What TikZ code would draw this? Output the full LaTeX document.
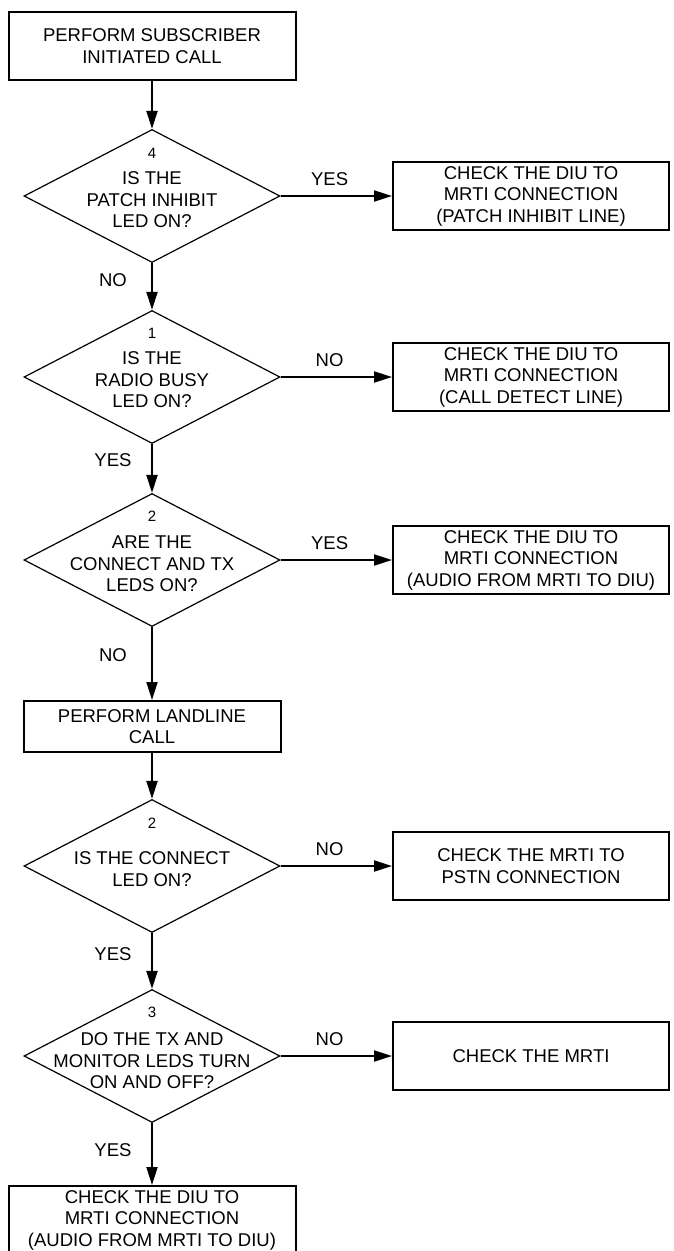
\documentclass[tikz,border=0pt]{standalone}
\usepackage{fontspec}
\setmainfont{Liberation Sans}
\usetikzlibrary{arrows.meta, shapes, positioning}

\begin{document}
\begin{tikzpicture}[x=1pt, y=-1pt,
                    txt/.style={font=\fontsize{18.5}{21.5}\selectfont, align=center},
                    box node/.style={rectangle, draw, line width=2pt, txt,
                      minimum width=276pt, minimum height=68pt, inner sep=0pt},
                    decision/.style={diamond, draw, line width=1.2pt,
                      minimum width=256pt, minimum height=133pt, inner sep=0pt},
                    num/.style={font=\fontsize{15}{18}\selectfont},
                    lbl/.style={txt},
                    flow/.style={draw, line width=2pt,
                      -{Triangle[length=18pt, width=11pt]}}]

  \useasboundingbox (0,0) rectangle (673,1251);

  % main column
  \node[box node, minimum width=287pt] (start) at (152,46) {PERFORM SUBSCRIBER\\INITIATED CALL};
  \node[decision] (d1) at (152,196) {};
  \node[txt] (d1 text) at ([yshift=-4pt]d1.center) {IS THE\\PATCH INHIBIT\\LED ON?};
  \node[num] (d1 num) at ([yshift=43pt]d1.center) {4};

  \node[decision] (d2) at (152,377) {};
  \node[txt] (d2 text) at ([yshift=-3pt]d2.center) {IS THE\\RADIO BUSY\\LED ON?};
  \node[num] (d2 num) at ([yshift=44pt]d2.center) {1};

  \node[decision] (d3) at (152,560) {};
  \node[txt] (d3 text) at ([yshift=-4pt]d3.center) {ARE THE\\CONNECT AND TX\\LEDS ON?};
  \node[num] (d3 num) at ([yshift=44pt]d3.center) {2};

  \node[box node, minimum width=257pt, minimum height=51pt] (land) at (152,726.5) {PERFORM LANDLINE\\CALL};

  \node[decision] (d4) at (152,866) {};
  \node[txt] (d4 text) at ([yshift=-3pt]d4.center) {IS THE CONNECT\\LED ON?};
  \node[num] (d4 num) at ([yshift=43pt]d4.center) {2};

  \node[decision] (d5) at (152,1056) {};
  \node[txt] (d5 text) at ([yshift=-5pt]d5.center) {DO THE TX AND\\MONITOR LEDS TURN\\ON AND OFF?};
  \node[num] (d5 num) at ([yshift=44pt]d5.center) {3};

  \node[box node, minimum width=287pt] (end) at (152,1220) {CHECK THE DIU TO\\MRTI CONNECTION\\(AUDIO FROM MRTI TO DIU)};

  % right column
  \node[box node] (b1) at (531,196) {CHECK THE DIU TO\\MRTI CONNECTION\\(PATCH INHIBIT LINE)};
  \node[box node] (b2) at (531,377) {CHECK THE DIU TO\\MRTI CONNECTION\\(CALL DETECT LINE)};
  \node[box node] (b3) at (531,560) {CHECK THE DIU TO\\MRTI CONNECTION\\(AUDIO FROM MRTI TO DIU)};
  \node[box node] (b4) at (531,866) {CHECK THE MRTI TO\\PSTN CONNECTION};
  \node[box node] (b5) at (531,1056) {CHECK THE MRTI};

  \path
    (start) edge[flow] (d1)
    (d1) edge[flow] node[lbl, pos=.44, yshift=17pt] {YES} (b1)
    (d1) edge[flow] node[lbl, pos=.36, xshift=-39pt] {NO} (d2)
    (d2) edge[flow] node[lbl, pos=.44, yshift=17pt] {NO} (b2)
    (d2) edge[flow] node[lbl, pos=.33, xshift=-39pt] {YES} (d3)
    (d3) edge[flow] node[lbl, pos=.44, yshift=17pt] {YES} (b3)
    (d3) edge[flow] node[lbl, pos=.38, xshift=-39pt] {NO} (land)
    (land) edge[flow] (d4)
    (d4) edge[flow] node[lbl, pos=.44, yshift=17pt] {NO} (b4)
    (d4) edge[flow] node[lbl, pos=.38, xshift=-39pt] {YES} (d5)
    (d5) edge[flow] node[lbl, pos=.44, yshift=17pt] {NO} (b5)
    (d5) edge[flow] node[lbl, pos=.43, xshift=-39pt] {YES} (end);
\end{tikzpicture}
\end{document}
